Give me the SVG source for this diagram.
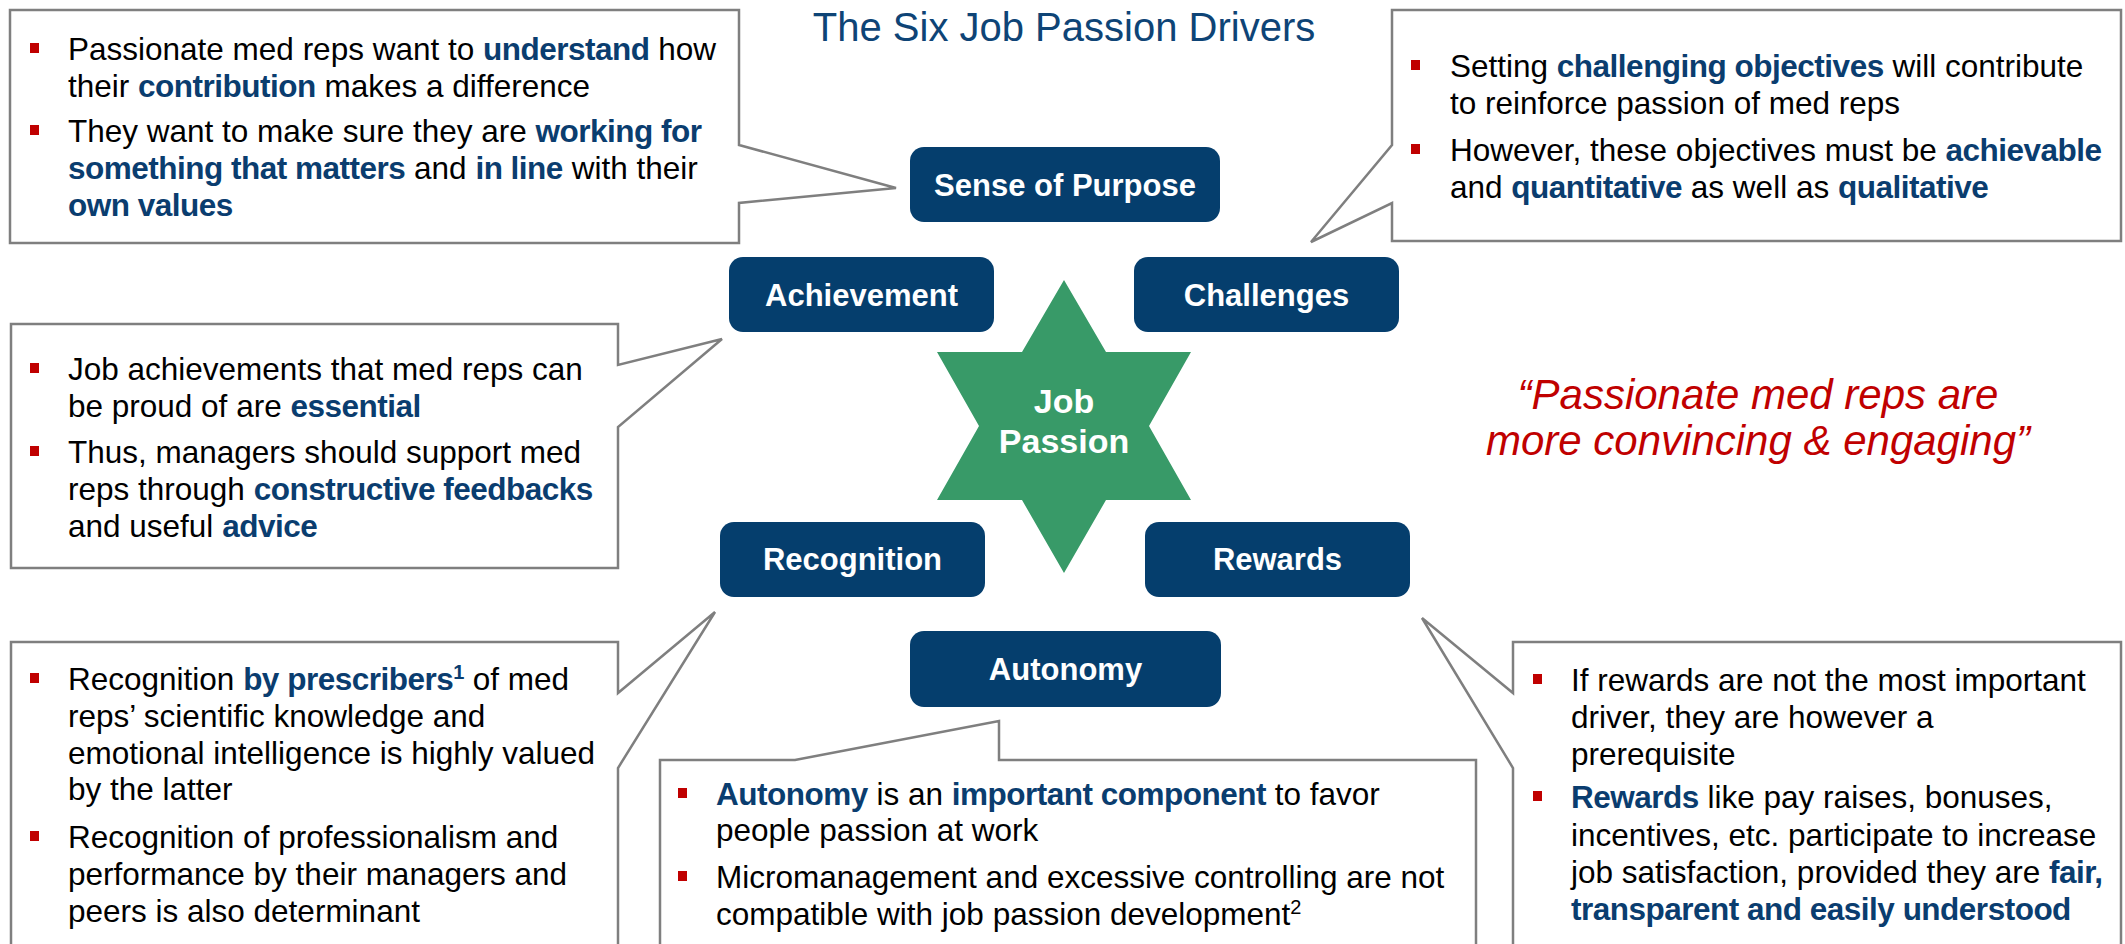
<svg xmlns="http://www.w3.org/2000/svg" width="2125" height="944" viewBox="0 0 2125 944">
<defs>
<style>
.callout{fill:#ffffff;stroke:#7f7f7f;stroke-width:2.5;stroke-linejoin:miter}
.node rect{fill:#053e6d}
.nlabel{font-family:"Liberation Sans",Arial,sans-serif;font-weight:bold;font-size:31px;fill:#ffffff;text-anchor:middle}
.body{font-family:"Liberation Sans",Arial,sans-serif;font-size:31.5px;fill:#000000}
.hl{font-weight:bold;fill:#0a3d6f;letter-spacing:-0.5px}
.bul{fill:#c00000}
.title{font-family:"Liberation Sans",Arial,sans-serif;font-size:40px;fill:#0e4476;text-anchor:middle}
.quote{font-family:"Liberation Sans",Arial,sans-serif;font-style:italic;font-size:42px;fill:#c00000;text-anchor:middle}
</style>
</defs>
<rect width="2125" height="944" fill="#ffffff"/>
<text class="title" x="1064" y="41">The Six Job Passion Drivers</text>

<g id="connectors">
<path id="callout-purpose" class="callout" d="M10,10 H739 V145 L896,188 L739,203 V243 H10 Z"/>
<path id="callout-challenges" class="callout" d="M1392,10 H2121 V241 H1392 V203 L1311,242 L1392,145 Z"/>
<path id="callout-achievement" class="callout" d="M11,324 H618 V365 L722,339 L618,427 V568 H11 Z"/>
<path id="callout-recognition" class="callout" d="M11,642 H618 V693 L715,612 L618,768 V952 H11 Z"/>
<path id="callout-autonomy" class="callout" d="M660,760 H795 L999,721 V760 H1476 V952 H660 Z"/>
<path id="callout-rewards" class="callout" d="M1513,642 H2121 V952 H1513 V768 L1422,618 L1513,693 Z"/>
</g>

<g id="star">
<polygon fill="#389a68" points="1064,280 1106,352 1191,352 1149,426 1191,500 1106,500 1064,573 1022,500 937,500 979,426 937,352 1022,352"/>
<text class="nlabel" x="1064" y="413" style="font-size:34px">Job</text>
<text class="nlabel" x="1064" y="453" style="font-size:34px">Passion</text>
</g>

<g id="node-purpose" class="node"><rect x="910" y="147" width="310" height="75" rx="14"/><text class="nlabel" x="1065" y="196">Sense of Purpose</text></g>
<g id="node-achievement" class="node"><rect x="729" y="257" width="265" height="75" rx="14"/><text class="nlabel" x="861.5" y="306">Achievement</text></g>
<g id="node-challenges" class="node"><rect x="1134" y="257" width="265" height="75" rx="14"/><text class="nlabel" x="1266.5" y="306">Challenges</text></g>
<g id="node-recognition" class="node"><rect x="720" y="522" width="265" height="75" rx="14"/><text class="nlabel" x="852.5" y="570">Recognition</text></g>
<g id="node-rewards" class="node"><rect x="1145" y="522" width="265" height="75" rx="14"/><text class="nlabel" x="1277.5" y="570">Rewards</text></g>
<g id="node-autonomy" class="node"><rect x="910" y="631" width="311" height="76" rx="14"/><text class="nlabel" x="1065.5" y="680">Autonomy</text></g>

<g id="text-purpose">
<rect class="bul" x="30" y="43" width="9" height="10"/>
<text class="body" x="68" y="60">Passionate med reps want to <tspan class="hl">understand</tspan> how</text>
<text class="body" x="68" y="97">their <tspan class="hl">contribution</tspan> makes a difference</text>
<rect class="bul" x="30" y="125" width="9" height="10"/>
<text class="body" x="68" y="142">They want to make sure they are <tspan class="hl">working for</tspan></text>
<text class="body" x="68" y="179"><tspan class="hl">something that matters</tspan> and <tspan class="hl">in line</tspan> with their</text>
<text class="body" x="68" y="216"><tspan class="hl">own values</tspan></text>
</g>

<g id="text-challenges">
<rect class="bul" x="1411" y="60" width="9" height="10"/>
<text class="body" x="1450" y="77">Setting <tspan class="hl">challenging objectives</tspan> will contribute</text>
<text class="body" x="1450" y="114">to reinforce passion of med reps</text>
<rect class="bul" x="1411" y="144" width="9" height="10"/>
<text class="body" x="1450" y="161">However, these objectives must be <tspan class="hl">achievable</tspan></text>
<text class="body" x="1450" y="198">and <tspan class="hl">quantitative</tspan> as well as <tspan class="hl">qualitative</tspan></text>
</g>

<g id="text-achievement">
<rect class="bul" x="30" y="363" width="9" height="10"/>
<text class="body" x="68" y="380">Job achievements that med reps can</text>
<text class="body" x="68" y="417">be proud of are <tspan class="hl">essential</tspan></text>
<rect class="bul" x="30" y="446" width="9" height="10"/>
<text class="body" x="68" y="463">Thus, managers should support med</text>
<text class="body" x="68" y="500">reps through <tspan class="hl">constructive feedbacks</tspan></text>
<text class="body" x="68" y="537">and useful <tspan class="hl">advice</tspan></text>
</g>

<g id="text-recognition">
<rect class="bul" x="30" y="673" width="9" height="10"/>
<text class="body" x="68" y="690">Recognition <tspan class="hl">by prescribers</tspan><tspan class="hl" dy="-11" style="font-size:20px">1</tspan><tspan dy="11"> of med</tspan></text>
<text class="body" x="68" y="727">reps’ scientific knowledge and</text>
<text class="body" x="68" y="764">emotional intelligence is highly valued</text>
<text class="body" x="68" y="800">by the latter</text>
<rect class="bul" x="30" y="831" width="9" height="10"/>
<text class="body" x="68" y="848">Recognition of professionalism and</text>
<text class="body" x="68" y="885">performance by their managers and</text>
<text class="body" x="68" y="922">peers is also determinant</text>
</g>

<g id="text-autonomy">
<rect class="bul" x="678" y="788" width="9" height="10"/>
<text class="body" x="716" y="805"><tspan class="hl">Autonomy</tspan> is an <tspan class="hl">important component</tspan> to favor</text>
<text class="body" x="716" y="841">people passion at work</text>
<rect class="bul" x="678" y="871" width="9" height="10"/>
<text class="body" x="716" y="888">Micromanagement and excessive controlling are not</text>
<text class="body" x="716" y="925">compatible with job passion development<tspan dy="-11" style="font-size:20px">2</tspan></text>
</g>

<g id="text-rewards">
<rect class="bul" x="1533" y="674" width="9" height="10"/>
<text class="body" x="1571" y="691">If rewards are not the most important</text>
<text class="body" x="1571" y="728">driver, they are however a</text>
<text class="body" x="1571" y="765">prerequisite</text>
<rect class="bul" x="1533" y="791" width="9" height="10"/>
<text class="body" x="1571" y="808"><tspan class="hl">Rewards</tspan> like pay raises, bonuses,</text>
<text class="body" x="1571" y="846">incentives, etc. participate to increase</text>
<text class="body" x="1571" y="883">job satisfaction, provided they are <tspan class="hl">fair,</tspan></text>
<text class="body" x="1571" y="920"><tspan class="hl">transparent and easily understood</tspan></text>
</g>

<g id="quote">
<text class="quote" x="1758" y="409">“Passionate med reps are</text>
<text class="quote" x="1758" y="455">more convincing &amp; engaging”</text>
</g>
</svg>
